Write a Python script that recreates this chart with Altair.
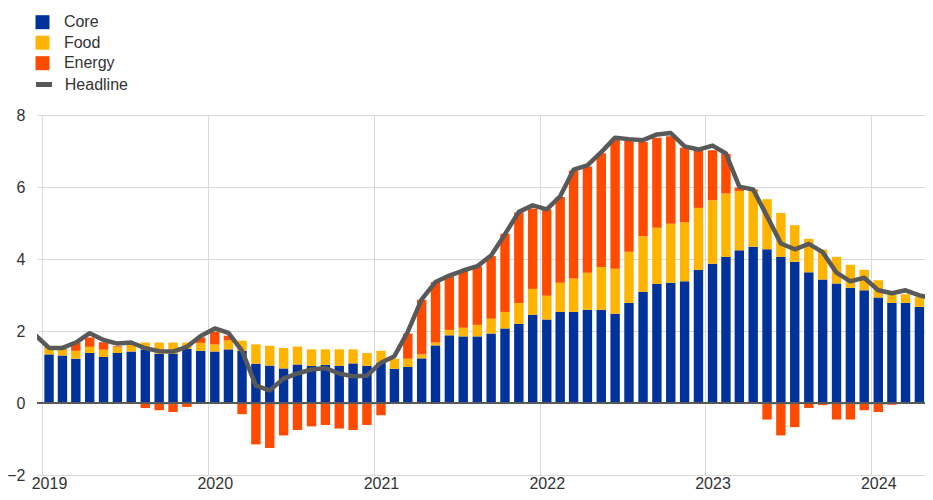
import altair as alt
import pandas as pd

# ---- data (monthly, Jan 2019 - Apr 2024) ----
series_names = ["Core", "Food", "Energy"]
series_colors = ["#003299", "#FFB400", "#FF4B00"]

core = [
    1.35, 1.32, 1.23, 1.39, 1.28, 1.39, 1.43, 1.49, 1.37, 1.37, 1.50, 1.45,
    1.43, 1.49, 1.45, 1.09, 1.04, 0.96, 1.07, 1.03, 1.06, 1.03, 1.10, 1.03,
    1.12, 0.95, 1.00, 1.24, 1.60, 1.88, 1.85, 1.85, 1.93, 2.07, 2.20, 2.45,
    2.32, 2.53, 2.53, 2.59, 2.59, 2.48, 2.78, 3.09, 3.31, 3.34, 3.38, 3.70,
    3.87, 4.06, 4.24, 4.34, 4.27, 4.06, 3.92, 3.63, 3.43, 3.32, 3.20, 3.13,
    2.93, 2.78, 2.78, 2.67,
]
food = [
    0.18, 0.16, 0.22, 0.17, 0.20, 0.17, 0.18, 0.19, 0.31, 0.31, 0.18, 0.22,
    0.20, 0.25, 0.28, 0.54, 0.55, 0.57, 0.50, 0.46, 0.43, 0.46, 0.39, 0.36,
    0.33, 0.28, 0.23, 0.11, 0.08, 0.15, 0.24, 0.32, 0.41, 0.46, 0.58, 0.72,
    0.66, 0.81, 0.93, 1.03, 1.19, 1.25, 1.42, 1.54, 1.56, 1.64, 1.64, 1.72,
    1.76, 1.76, 1.65, 1.55, 1.39, 1.22, 1.02, 0.93, 0.83, 0.74, 0.64, 0.57,
    0.48, 0.24, 0.24, 0.27,
]
energy = [
    0.02, 0.02, 0.23, 0.26, 0.21, 0.02, 0.00, -0.14, -0.20, -0.25, -0.11, 0.15,
    0.35, 0.13, -0.31, -1.15, -1.25, -0.90, -0.75, -0.65, -0.61, -0.71, -0.75, -0.61,
    -0.34, 0.00, 0.70, 1.52, 1.68, 1.49, 1.60, 1.63, 1.74, 2.17, 2.51, 2.23,
    2.40, 2.38, 3.00, 2.95, 3.16, 3.59, 3.08, 2.62, 2.50, 2.43, 2.07, 1.62,
    1.39, 1.10, 0.09, 0.04, -0.46, -0.90, -0.67, -0.14, -0.06, -0.46, -0.46, -0.20,
    -0.25, -0.05, 0.00, 0.00,
]
# headline runs from Dec 2018 to May 2024 (ends clipped at the plot edges)
headline = [
    1.90,
    1.53, 1.53, 1.68, 1.94, 1.75, 1.65, 1.68, 1.52, 1.44, 1.43, 1.56, 1.86,
    2.07, 1.95, 1.45, 0.48, 0.35, 0.68, 0.82, 0.93, 0.97, 0.82, 0.74, 0.76,
    1.12, 1.30, 1.98, 2.88, 3.36, 3.54, 3.68, 3.80, 4.10, 4.69, 5.31, 5.49,
    5.38, 5.74, 6.48, 6.60, 6.97, 7.37, 7.33, 7.30, 7.46, 7.50, 7.13, 7.04,
    7.15, 6.93, 6.01, 5.93, 5.19, 4.43, 4.27, 4.42, 4.19, 3.62, 3.38, 3.48,
    3.13, 3.05, 3.13, 2.99,
    2.90,
]
y_ticks = [-2, 0, 2, 4, 6, 8]


def mid_month(starts):
    nxt = starts + pd.offsets.MonthBegin(1)
    return starts + (nxt - starts) / 2


bar_months = mid_month(pd.date_range("2019-01-01", periods=len(core), freq="MS"))
line_months = mid_month(pd.date_range("2018-12-01", periods=len(headline), freq="MS"))

rows = []
for k, (name, vals) in enumerate(zip(series_names, [core, food, energy])):
    for d, v in zip(bar_months, vals):
        rows.append({"date": d, "series": name, "value": v, "order": k})
bar_df = pd.DataFrame(rows)
line_df = pd.DataFrame({"date": line_months, "value": headline, "series": "Headline"})

FONT = "Liberation Sans"
TXT = "#333333"

x_scale = alt.Scale(domain=[alt.DateTime(year=2019, month=1, date=1),
                            alt.DateTime(year=2024, month=4, date=17, hours=8)])
y_scale = alt.Scale(domain=[-2, 8], nice=False, zero=False)

x_axis = alt.Axis(format="%Y", tickCount="year", grid=True, ticks=False, domain=False,
                  labelOffset=7, labelPadding=0, labelFontSize=16, labelFont=FONT,
                  labelColor=TXT, gridColor="#d9d9d9", labelOverlap=False, title=None)
y_axis = alt.Axis(values=y_ticks, grid=True, ticks=False, domain=False,
                  labelPadding=12, labelFontSize=16, labelFont=FONT, labelColor=TXT,
                  gridColor="#d9d9d9", title=None)

bars = alt.Chart(bar_df).mark_bar(size=9.4).encode(
    x=alt.X("date:T", scale=x_scale, axis=x_axis, title=None),
    y=alt.Y("value:Q", stack="zero", scale=y_scale, axis=y_axis, title=None),
    fill=alt.Fill("series:N",
                  scale=alt.Scale(domain=series_names, range=series_colors),
                  legend=alt.Legend(orient="none", legendX=-2.5, legendY=-100.8, title=None,
                                    symbolType="square", symbolSize=196, symbolStrokeWidth=0,
                                    labelFontSize=16, labelFont=FONT, labelColor=TXT,
                                    labelOffset=13.4, rowPadding=4.5, padding=0)),
    order=alt.Order("order:Q"),
)

zero = alt.Chart(pd.DataFrame({"y": [0]})).mark_rule(color="#595959", strokeWidth=2).encode(
    y=alt.Y("y:Q", scale=y_scale, title=None)
)

line = alt.Chart(line_df).mark_line(strokeWidth=4.5, clip=True, strokeJoin="round").encode(
    x=alt.X("date:T", title=None),
    y=alt.Y("value:Q", title=None),
    stroke=alt.Stroke("series:N",
                      scale=alt.Scale(domain=["Headline"], range=["#595959"]),
                      legend=alt.Legend(orient="none", legendX=-3.5, legendY=-41, title=None,
                                        symbolType="stroke", symbolSize=256, symbolStrokeWidth=5,
                                        labelFontSize=16, labelFont=FONT, labelColor=TXT,
                                        labelOffset=10.3, padding=0)),
)

chart = alt.layer(bars, zero, line).properties(
    width=888, height=360,
    autosize=alt.AutoSizeParams(type="none"),
    padding={"top": 107, "left": 29, "right": 0, "bottom": 17},
).configure_view(strokeWidth=0)

chart.save("out.html", embed_options={"renderer": "svg", "actions": False})
